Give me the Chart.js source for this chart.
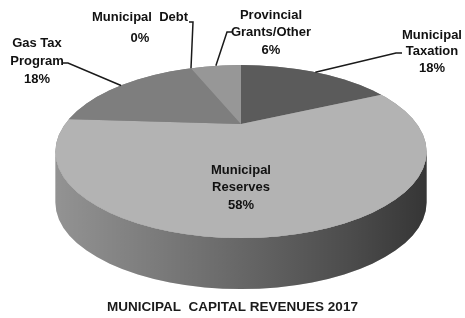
<!DOCTYPE html>
<html>
<head>
<meta charset="utf-8">
<script src="https://cdn.jsdelivr.net/npm/chart.js@4.4.0/dist/chart.umd.min.js"></script>
<style>
    html, body { margin: 0; padding: 0; background: #fff; }
    #wrap { width: 465px; height: 318px; }
</style>
</head>
<body>
<div id="wrap"><canvas id="capital-revenues" width="465" height="318"></canvas></div>
<script>
// data
var categories = ["Municipal Taxation", "Municipal Reserves", "Gas Tax Program", "Municipal Debt", "Provincial Grants/Other"];
var labelLines = [["Municipal", "Taxation"], ["Municipal", "Reserves"], ["Gas Tax", "Program"], ["Municipal  Debt"], ["Provincial", "Grants/Other"]];
var shares = [18, 58, 18, 0, 6];
var sliceColors = ["#5b5b5b", "#b3b3b3", "#7e7e7e", "#6a6a6a", "#979797"];
var chartTitle = "MUNICIPAL  CAPITAL REVENUES 2017";

// tilted disc seen in perspective: projected centre, half width / half height at the centre, perspective k
var view = { cx: 241, cy: 124, a: 176, b: 77.8, k: 0.318, depth: 51 };

// rim outline that this gives (an ellipse)
var rimTop = view.cy - view.b / (1 + view.k);
var rimBottom = view.cy + view.b / (1 - view.k);
var rim = {
    cx: view.cx,
    cy: (rimTop + rimBottom) / 2,
    rx: view.a / Math.sqrt(1 - view.k * view.k),
    ry: (rimBottom - rimTop) / 2
};

// label boxes (x = centre of text, y = first line), leader runs from the label to the slice rim
var labelPlaces = [
    { x: 432, y: 35, step: 16.5, leader: [[402, 53], [396, 53]] },
    { x: 241, y: 170, step: 17.5 },
    { x: 37, y: 43, step: 18, leader: [[62, 63], [68, 63]] },
    { x: 140, y: 17, step: 21, leader: [[189, 22], [193, 22]] },
    { x: 271, y: 15, step: 17.5, leader: [[233, 32], [227, 32]] }
];

var labelFont = 'bold 13px "Liberation Sans", Arial, sans-serif';

// canvas angle of the flat pie -> point on the projected rim
var project = function (angle) {
    var d = 1 - view.k * Math.sin(angle);
    return {
        x: view.cx + view.a * Math.cos(angle) / d,
        y: view.cy + view.b * Math.sin(angle) / d
    };
};
var rimAngle = function (angle) {
    var p = project(angle);
    return Math.atan2((p.y - rim.cy) / rim.ry, (p.x - rim.cx) / rim.rx);
};

var pie3d = {
    id: 'pie3d',
    beforeDatasetsDraw: function (chart) {
        var ctx = chart.ctx;
        var arcs = chart.getDatasetMeta(0).data;

        // side walls, only the front half of the rim can be seen
        arcs.forEach(function (arc, i) {
            if (arc.endAngle <= arc.startAngle) {
                return;
            }
            var a0 = rimAngle(arc.startAngle);
            var a1 = rimAngle(arc.endAngle);
            if (a1 < a0) {
                a1 += Math.PI * 2;
            }
            var a = Math.max(a0, 0);
            var b = Math.min(a1, Math.PI);
            if (b <= a) {
                return;
            }
            ctx.save();
            ctx.beginPath();
            ctx.ellipse(rim.cx, rim.cy, rim.rx, rim.ry, 0, a, b);
            ctx.ellipse(rim.cx, rim.cy + view.depth, rim.rx, rim.ry, 0, b, a, true);
            ctx.closePath();
            ctx.fillStyle = sliceColors[i];
            ctx.fill();
            var shade = ctx.createLinearGradient(rim.cx - rim.rx, 0, rim.cx + rim.rx, 0);
            shade.addColorStop(0, 'rgba(0,0,0,0.18)');
            shade.addColorStop(0.45, 'rgba(0,0,0,0.40)');
            shade.addColorStop(0.8, 'rgba(0,0,0,0.58)');
            shade.addColorStop(1, 'rgba(0,0,0,0.70)');
            ctx.fillStyle = shade;
            ctx.fill();
            ctx.restore();
        });

        // top face: clip to the rim, then stretch the flat pie so its
        // spokes leave the projected centre in perspective directions
        ctx.save();
        ctx.beginPath();
        ctx.ellipse(rim.cx, rim.cy, rim.rx, rim.ry, 0, 0, Math.PI * 2);
        ctx.fillStyle = '#8a8a8a';
        ctx.fill();
        ctx.clip();

        var R = arcs[0].outerRadius;
        var grow = 2.5;
        ctx.translate(view.cx, view.cy);
        ctx.scale(view.a * grow / R, view.b * grow / R);
        ctx.translate(-arcs[0].x, -arcs[0].y);
    },
    afterDatasetsDraw: function (chart) {
        var ctx = chart.ctx;
        ctx.restore();

        var arcs = chart.getDatasetMeta(0).data;
        ctx.save();
        ctx.font = labelFont;
        ctx.textAlign = 'center';
        ctx.textBaseline = 'middle';
        ctx.fillStyle = '#111';
        ctx.strokeStyle = '#1a1a1a';
        ctx.lineWidth = 1.5;

        labelPlaces.forEach(function (p, i) {
            var lines = labelLines[i].concat([shares[i] + '%']);
            lines.forEach(function (t, k) {
                ctx.fillText(t, p.x, p.y + k * p.step);
            });
            if (p.leader) {
                var end = project((arcs[i].startAngle + arcs[i].endAngle) / 2);
                ctx.beginPath();
                ctx.moveTo(p.leader[0][0], p.leader[0][1]);
                for (var n = 1; n < p.leader.length; n++) {
                    ctx.lineTo(p.leader[n][0], p.leader[n][1]);
                }
                ctx.lineTo(end.x, end.y);
                ctx.stroke();
            }
        });
        ctx.restore();
    }
};

var ctxEl = document.getElementById('capital-revenues');
var revenueChart = new Chart(ctxEl.getContext('2d'), {
    type: 'pie',
    data: {
        labels: categories,
        datasets: [{
            data: shares,
            backgroundColor: sliceColors,
            borderWidth: 0,
            clip: false
        }]
    },
    options: {
        responsive: false,
        animation: false,
        events: [],
        layout: { padding: 0 },
        plugins: {
            legend: { display: false },
            tooltip: { enabled: false },
            title: {
                display: true,
                text: chartTitle,
                position: 'bottom',
                color: '#1a1a1a',
                font: { family: '"Liberation Sans", Arial, sans-serif', size: 13.5, weight: 'bold' },
                padding: { top: 0, bottom: 3 }
            }
        }
    },
    plugins: [pie3d]
});
</script>
</body>
</html>
